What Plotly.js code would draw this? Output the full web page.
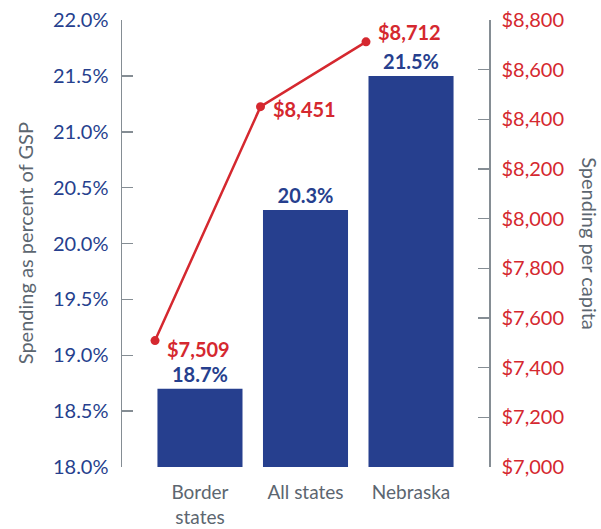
<!DOCTYPE html>
<html>
<head>
<meta charset="utf-8">
<script src="https://cdn.plot.ly/plotly-3.0.1.min.js"></script>
<style>html,body{margin:0;padding:0;background:#fff}#chart{width:601px;height:529px}</style>
</head>
<body>
<div id="chart"></div>
<script>
// ---- data ----
const categories = ["Border<br>states", "All states", "Nebraska"];
const gspPercent = [18.7, 20.3, 21.5];
const perCapita = [7509, 8451, 8712];
const leftTicks = [18.0, 18.5, 19.0, 19.5, 20.0, 20.5, 21.0, 21.5, 22.0];
const rightTicks = [7000, 7200, 7400, 7600, 7800, 8000, 8200, 8400, 8600, 8800];
const leftTickText = leftTicks.map(v => v.toFixed(1) + "%");
const rightTickText = rightTicks.map(v => "$" + v.toLocaleString("en-US"));

// ---- styles ----
const BLUE = "#263f8e";
const RED = "#d5282f";
const GRAY = "#5c6670";
const AXIS = "#858d94";
const FONT = "Lato, 'Open Sans', sans-serif";
const labelShift = [-8, -2, 10];

const bars = {
  type: "bar",
  x: categories,
  y: gspPercent,
  marker: { color: BLUE },
  texttemplate: "%{y:.1f}%",
  textposition: "outside",
  textfont: { family: FONT, size: 20, color: BLUE, weight: "bold" },
  cliponaxis: false,
  xaxis: "x",
  yaxis: "y",
  hoverinfo: "skip"
};

const line = {
  type: "scatter",
  mode: "lines+markers",
  x: categories,
  y: perCapita,
  line: { color: RED, width: 2.5 },
  marker: { color: RED, size: 9 },
  xaxis: "x2",
  yaxis: "y2",
  cliponaxis: false,
  hoverinfo: "skip"
};

const annotations = perCapita.map((v, i) => ({
  xref: "x2", yref: "y2",
  x: categories[i], y: v,
  text: "$" + v.toLocaleString("en-US"),
  showarrow: false,
  xanchor: "left", yanchor: "middle",
  xshift: 10, yshift: labelShift[i],
  font: { family: FONT, size: 20, color: RED, weight: "bold" }
}));

annotations.push({
  xref: "paper", yref: "paper", x: -0.265, y: 0.5,
  text: "Spending as percent of GSP", showarrow: false, textangle: -90,
  xanchor: "center", yanchor: "middle",
  font: { family: FONT, size: 20, color: GRAY }
});
annotations.push({
  xref: "paper", yref: "paper", x: 1.276, y: 0.5,
  text: "Spending per capita", showarrow: false, textangle: 90,
  xanchor: "center", yanchor: "middle",
  font: { family: FONT, size: 20, color: GRAY }
});

const layout = {
  width: 601, height: 529,
  margin: { l: 122, r: 112, t: 20, b: 62, pad: 0 },
  paper_bgcolor: "#fff", plot_bgcolor: "#fff",
  showlegend: false,
  bargap: 0.194,
  font: { family: FONT },
  xaxis: {
    type: "category", range: [-0.739, 2.739],
    showline: false, showgrid: false, zeroline: false,
    ticks: "", ticklabelstandoff: 12,
    tickfont: { family: FONT, size: 19, color: GRAY }
  },
  xaxis2: {
    type: "category", overlaying: "x", anchor: "y2",
    range: [-0.313, 3.166], visible: false
  },
  yaxis: {
    range: [18, 22], tickmode: "array", tickvals: leftTicks, ticktext: leftTickText,
    showline: true, linecolor: AXIS, linewidth: 1.5,
    ticks: "inside", ticklen: 11, tickcolor: AXIS, tickwidth: 1.5,
    showgrid: false, zeroline: false,
    ticklabelstandoff: 8,
    tickfont: { family: FONT, size: 20, color: BLUE }
  },
  yaxis2: {
    overlaying: "y", side: "right", anchor: "x",
    range: [7000, 8800], tickmode: "array", tickvals: rightTicks, ticktext: rightTickText,
    showline: true, linecolor: AXIS, linewidth: 1.5,
    ticks: "inside", ticklen: 11, tickcolor: AXIS, tickwidth: 1.5,
    showgrid: false, zeroline: false,
    ticklabelstandoff: 7,
    tickfont: { family: FONT, size: 20, color: RED }
  },
  annotations: annotations
};

Plotly.newPlot("chart", [bars, line], layout, { displayModeBar: false, staticPlot: true });
</script>
</body>
</html>
